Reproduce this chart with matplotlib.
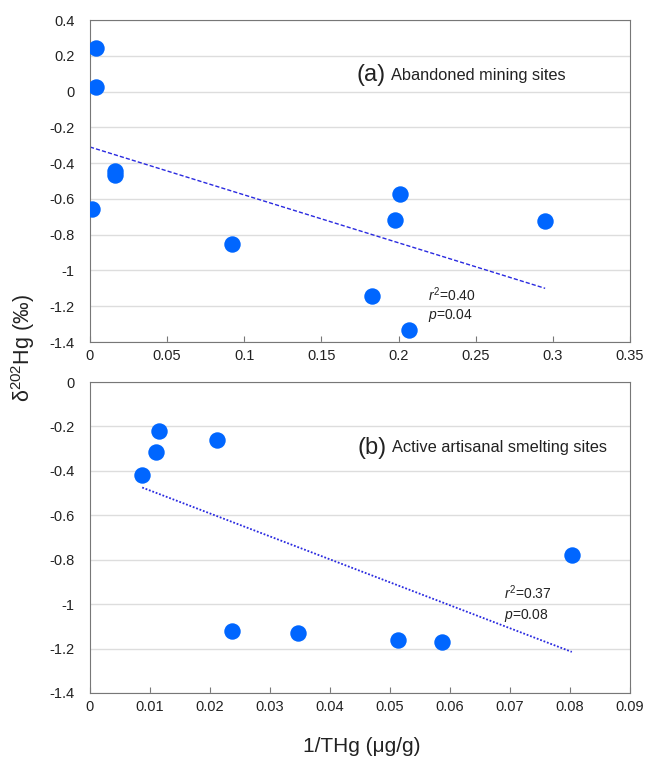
import numpy as np
import matplotlib.pyplot as plt

plt.rcParams['font.family'] = ['Liberation Sans', 'DejaVu Sans']
plt.rcParams['mathtext.fontset'] = 'custom'
plt.rcParams['mathtext.rm'] = 'Liberation Sans'
plt.rcParams['mathtext.it'] = 'Liberation Sans:italic'

# (a) Abandoned mining sites
xa = [0.004, 0.004, 0.016, 0.016, 0.001, 0.092, 0.201, 0.198, 0.295, 0.183, 0.207]
ya = [0.245, 0.025, -0.445, -0.465, -0.655, -0.850, -0.570, -0.720, -0.725, -1.145, -1.335]
trend_xa = [0.0, 0.295]
trend_ya = [-0.31, -1.10]

# (b) Active artisanal smelting sites
xb = [0.0087, 0.0110, 0.0115, 0.0212, 0.0237, 0.0347, 0.0514, 0.0586, 0.0803]
yb = [-0.42, -0.315, -0.22, -0.26, -1.12, -1.13, -1.16, -1.17, -0.78]
trend_xb = [0.0087, 0.0803]
trend_yb = [-0.475, -1.215]

pt_color = '#0066ff'
line_color = '#2a2ae0'
txt = '#222222'

fig = plt.figure(figsize=(6.46, 7.61), dpi=100)
ax1 = fig.add_axes([90/646, 1-342/761, 540/646, 322/761])
ax2 = fig.add_axes([90/646, 1-693/761, 540/646, 311/761])

def style(ax):
    ax.grid(axis='y', color='#dddddd', lw=1)
    ax.set_axisbelow(True)
    for s in ax.spines.values():
        s.set_color('#777777')
    ax.tick_params(axis='x', direction='in', length=4, colors='#777777',
                   labelcolor=txt, labelsize=10.5, pad=5)
    ax.tick_params(axis='y', length=0, labelcolor=txt, labelsize=10.5, pad=11)

ax1.scatter(xa, ya, s=140, color=pt_color, zorder=3, linewidths=0)
ax1.plot(trend_xa, trend_ya, ls=(0, (3, 1.5)), color=line_color, lw=1)
ax1.set_xlim(0, 0.35)
ax1.set_ylim(-1.4, 0.4)
ax1.set_xticks(np.arange(0, 0.351, 0.05))
ax1.set_xticklabels(['0', '0.05', '0.1', '0.15', '0.2', '0.25', '0.3', '0.35'])
ax1.set_yticks(np.arange(-1.4, 0.41, 0.2))
ax1.set_yticklabels(['-1.4', '-1.2', '-1', '-0.8', '-0.6', '-0.4', '-0.2', '0', '0.2', '0.4'])
style(ax1)
ax1.text(0.173, 0.09, '(a)', fontsize=17, va='center', color=txt)
ax1.text(0.195, 0.09, 'Abandoned mining sites', fontsize=11.8, va='center', color=txt)
ax1.text(0.219, -1.136, r'$r^2$=0.40', fontsize=10, va='center', color=txt)
ax1.text(0.219, -1.25, r'$p$=0.04', fontsize=10, va='center', color=txt)

ax2.scatter(xb, yb, s=140, color=pt_color, zorder=3, linewidths=0)
ax2.plot(trend_xb, trend_yb, ls=(0, (1, 1)), color=line_color, lw=1.3)
ax2.set_xlim(0, 0.09)
ax2.set_ylim(-1.4, 0)
ax2.set_xticks(np.arange(0, 0.091, 0.01))
ax2.set_xticklabels(['0', '0.01', '0.02', '0.03', '0.04', '0.05', '0.06', '0.07', '0.08', '0.09'])
ax2.set_yticks(np.arange(-1.4, 0.01, 0.2))
ax2.set_yticklabels(['-1.4', '-1.2', '-1', '-0.8', '-0.6', '-0.4', '-0.2', '0'])
style(ax2)
ax2.text(0.0446, -0.297, '(b)', fontsize=17, va='center', color=txt)
ax2.text(0.0503, -0.297, 'Active artisanal smelting sites', fontsize=11.8, va='center', color=txt)
ax2.text(0.069, -0.95, r'$r^2$=0.37', fontsize=10, va='center', color=txt)
ax2.text(0.069, -1.05, r'$p$=0.08', fontsize=10, va='center', color=txt)

fig.text(23/646, 1-348/761, r'δ$^{202}$Hg (‰)', rotation=90, fontsize=15.5,
         ha='center', va='center', color=txt)
fig.text(362/646, 1-747/761, '1/THg (μg/g)', fontsize=15,
         ha='center', va='center', color=txt)

fig.savefig('out.png', dpi=100)
